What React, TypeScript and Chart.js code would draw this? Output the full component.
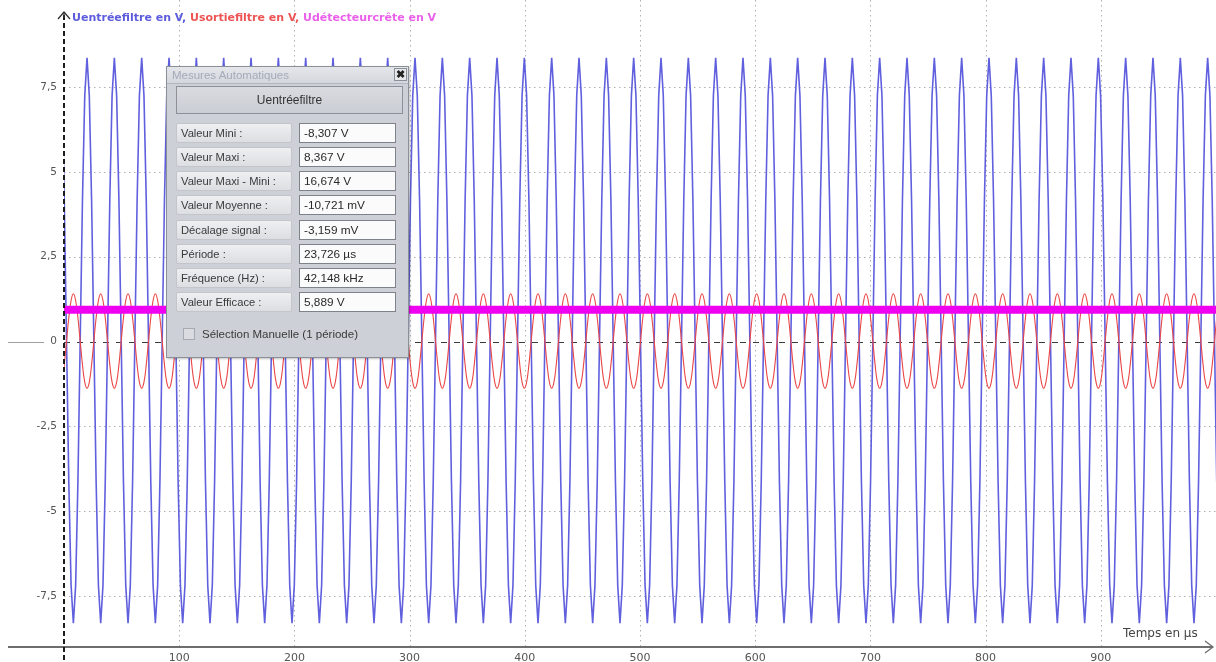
import React, { useEffect, useRef } from "react";
import { Chart, registerables } from "chart.js";

Chart.register(...registerables);

// Acquisition: one period of each signal, repeated over the record
const periodeUs = 23.726;
const premierCreuxUs = -15.6;
const nombrePeriodes = 43;
const uEntreeCycle = [-8.307, -7.19, -4.15, 0.03, 4.18, 7.25, 8.367, 7.25, 4.18, 0.03, -4.15, -7.19];
const uSortieCycle = [1.41, 1.21, 0.7, 0.01, -0.69, -1.2, -1.38, -1.2, -0.69, 0.01, 0.7, 1.21];
const detecteurTemps = [0, 1000];
const detecteurValeurs = [0.94, 0.94];

// Axes
const xMin = 0;
const xMax = 1000;
const yMin = -9.45;
const yMax = 10.07;
const xAxeValeur = -9.0;
const xTicks = [100, 200, 300, 400, 500, 600, 700, 800, 900];
const yTicks = [7.5, 5, 2.5, 0, -2.5, -5, -7.5];
const yTickLabels = ["7,5", "5", "2,5", "0", "-2,5", "-5", "-7,5"];
const xTitre = "Temps en µs";

const seriesNoms = ["Uentréefiltre en V", "Usortiefiltre en V", "Udétecteurcrête en V"];
const seriesCouleurs = ["rgb(96, 96, 222)", "rgb(234, 70, 70)", "rgb(240, 0, 240)"];
const titreCouleurs = ["rgb(92, 92, 220)", "rgb(238, 84, 84)", "rgb(234, 96, 234)"];

// Mesures automatiques
const mesuresVoie = "Uentréefiltre";
const mesuresLibelles = [
  "Valeur Mini :",
  "Valeur Maxi :",
  "Valeur Maxi - Mini :",
  "Valeur Moyenne :",
  "Décalage signal :",
  "Période :",
  "Fréquence (Hz) :",
  "Valeur Efficace :",
];
const mesuresValeurs = [
  "-8,307 V",
  "8,367 V",
  "16,674 V",
  "-10,721 mV",
  "-3,159 mV",
  "23,726 µs",
  "42,148 kHz",
  "5,889 V",
];
const mesuresLignesY = [122, 146, 170, 194, 219, 243, 267, 291];

function echantillons(cycle: number[]) {
  const pts: { x: number; y: number }[] = [];
  const n = cycle.length;
  for (let c = 0; c < nombrePeriodes; c++) {
    for (let k = 0; k < n; k++) {
      pts.push({ x: premierCreuxUs + (c + k / n) * periodeUs, y: cycle[k] });
    }
  }
  pts.push({ x: premierCreuxUs + nombrePeriodes * periodeUs, y: cycle[0] });
  return pts;
}

const decor = {
  id: "decor",
  beforeDatasetsDraw(chart: any) {
    const { ctx, scales } = chart;
    const x = scales.x;
    const y = scales.y;
    const x0 = x.getPixelForValue(0);
    const right = chart.width;
    const axeY = y.getPixelForValue(xAxeValeur);
    ctx.save();
    ctx.lineWidth = 1;
    ctx.strokeStyle = "#b0b0b0";
    ctx.setLineDash([1.5, 3.5]);
    yTicks.forEach((v) => {
      if (v === 0) return;
      const py = Math.round(y.getPixelForValue(v)) + 0.5;
      ctx.beginPath();
      ctx.moveTo(x0, py);
      ctx.lineTo(right, py);
      ctx.stroke();
    });
    xTicks.forEach((v) => {
      const px = Math.round(x.getPixelForValue(v)) + 0.5;
      ctx.beginPath();
      ctx.moveTo(px, 0);
      ctx.lineTo(px, axeY);
      ctx.stroke();
    });
    // zero reference
    const pz = Math.round(y.getPixelForValue(0)) + 0.5;
    ctx.strokeStyle = "#3a3a3a";
    ctx.lineWidth = 1.2;
    ctx.setLineDash([6, 7]);
    ctx.beginPath();
    ctx.moveTo(x0, pz);
    ctx.lineTo(right, pz);
    ctx.stroke();
    ctx.restore();
  },
  afterDatasetsDraw(chart: any) {
    const { ctx, scales } = chart;
    const x = scales.x;
    const y = scales.y;
    const x0 = Math.round(x.getPixelForValue(0));
    const axeY = Math.round(y.getPixelForValue(xAxeValeur));
    const pz = Math.round(y.getPixelForValue(0)) + 0.5;
    ctx.save();

    // stub left of the zero label
    ctx.strokeStyle = "#a0a0a0";
    ctx.lineWidth = 1;
    ctx.beginPath();
    ctx.moveTo(8, pz);
    ctx.lineTo(44, pz);
    ctx.stroke();

    // horizontal axis with arrow
    ctx.strokeStyle = "#6e6e6e";
    ctx.lineWidth = 2;
    ctx.beginPath();
    ctx.moveTo(8, axeY);
    ctx.lineTo(chart.width - 3, axeY);
    ctx.stroke();
    ctx.lineWidth = 1.3;
    ctx.beginPath();
    ctx.moveTo(chart.width - 11, axeY - 6);
    ctx.lineTo(chart.width - 3, axeY);
    ctx.lineTo(chart.width - 11, axeY + 6);
    ctx.stroke();

    // vertical axis, dashed, with arrow
    ctx.strokeStyle = "#1c1c1c";
    ctx.lineWidth = 2;
    ctx.setLineDash([5, 3]);
    ctx.beginPath();
    ctx.moveTo(x0, 15);
    ctx.lineTo(x0, chart.height);
    ctx.stroke();
    ctx.setLineDash([]);
    ctx.lineWidth = 1.3;
    ctx.strokeStyle = "#333";
    ctx.beginPath();
    ctx.moveTo(x0 - 6, 19);
    ctx.lineTo(x0, 12);
    ctx.lineTo(x0 + 6, 19);
    ctx.stroke();
    ctx.beginPath();
    ctx.moveTo(x0, 12);
    ctx.lineTo(x0, 18);
    ctx.stroke();

    // tick labels
    ctx.fillStyle = "#555";
    ctx.font = "10.5px 'DejaVu Sans'";
    ctx.textAlign = "right";
    ctx.textBaseline = "middle";
    yTicks.forEach((v, i) => {
      ctx.fillText(yTickLabels[i], 57, y.getPixelForValue(v));
    });
    ctx.textAlign = "center";
    ctx.font = "11px 'DejaVu Sans'";
    xTicks.forEach((v) => {
      ctx.fillText(String(v), x.getPixelForValue(v), axeY + 11);
    });
    ctx.textAlign = "left";
    ctx.fillStyle = "#444";
    ctx.font = "12px 'DejaVu Sans'";
    ctx.fillText(xTitre, 1123, axeY - 13);

    // series names along the top
    ctx.font = "bold 11px 'DejaVu Sans'";
    let tx = 72;
    seriesNoms.forEach((nom, i) => {
      const t = i < seriesNoms.length - 1 ? nom + ", " : nom;
      ctx.fillStyle = titreCouleurs[i];
      ctx.fillText(t, tx, 18);
      tx += ctx.measureText(t).width;
    });
    ctx.restore();
  },
};

function Mesures() {
  const police = "'Liberation Sans', Arial, sans-serif";
  return (
    <div
      style={{
        position: "absolute",
        left: 166,
        top: 66,
        width: 243,
        height: 292,
        boxSizing: "border-box",
        background: "#cdd0d6",
        border: "1px solid #8a8f98",
        boxShadow: "1px 1px 2px rgba(0,0,0,0.25)",
        fontFamily: police,
      }}
    >
      <div
        style={{
          position: "absolute",
          left: 0,
          top: 0,
          right: 0,
          height: 16,
          background: "linear-gradient(#e4e6ea, #d4d7dd)",
          borderBottom: "1px solid #b2b6be",
          color: "#a3aab8",
          fontSize: 11.5,
          lineHeight: "16px",
          paddingLeft: 5,
          whiteSpace: "nowrap",
        }}
      >
        Mesures Automatiques
      </div>
      <div
        style={{
          position: "absolute",
          right: 1,
          top: 1,
          width: 13,
          height: 13,
          background: "#e8e9ec",
          border: "1px solid #8a8f98",
          boxSizing: "border-box",
          color: "#222",
          fontSize: 11,
          fontWeight: "bold",
          lineHeight: "11px",
          textAlign: "center",
        }}
      >
        ✖
      </div>
      <div
        style={{
          position: "absolute",
          left: 9,
          top: 19,
          width: 227,
          height: 28,
          boxSizing: "border-box",
          background: "linear-gradient(#d9dbe0, #cacdd3)",
          border: "1px solid #8c9199",
          color: "#333",
          fontSize: 12,
          lineHeight: "26px",
          textAlign: "center",
        }}
      >
        {mesuresVoie}
      </div>
      {mesuresLibelles.map((lib, i) => (
        <React.Fragment key={lib}>
          <div
            style={{
              position: "absolute",
              left: 9,
              top: mesuresLignesY[i] - 66,
              width: 116,
              height: 20,
              boxSizing: "border-box",
              background: "linear-gradient(#eeeff1, #dcdee2)",
              border: "1px solid #c2c5cb",
              borderRadius: 2,
              color: "#3a3a3a",
              fontSize: 11.2,
              lineHeight: "18px",
              paddingLeft: 4,
              whiteSpace: "nowrap",
            }}
          >
            {lib}
          </div>
          <div
            style={{
              position: "absolute",
              left: 132,
              top: mesuresLignesY[i] - 66,
              width: 97,
              height: 20,
              boxSizing: "border-box",
              background: "#fbfbfc",
              border: "1px solid #7d828b",
              color: "#2a2a2a",
              fontSize: 11.8,
              lineHeight: "18px",
              paddingLeft: 4,
              whiteSpace: "nowrap",
            }}
          >
            {mesuresValeurs[i]}
          </div>
        </React.Fragment>
      ))}
      <div
        style={{
          position: "absolute",
          left: 16,
          top: 261,
          width: 12,
          height: 12,
          boxSizing: "border-box",
          background: "#d9dbe0",
          border: "1px solid #a5a9b1",
        }}
      />
      <div
        style={{
          position: "absolute",
          left: 35,
          top: 259,
          color: "#3a3a3a",
          fontSize: 11.5,
          lineHeight: "16px",
          whiteSpace: "nowrap",
        }}
      >
        Sélection Manuelle (1 période)
      </div>
    </div>
  );
}

export default function App() {
  const canvasRef = useRef<HTMLCanvasElement | null>(null);

  useEffect(() => {
    const canvas = canvasRef.current;
    if (!canvas) return;
    const chart = new Chart(canvas, {
      type: "line",
      data: {
        datasets: [
          {
            label: seriesNoms[0],
            data: echantillons(uEntreeCycle),
            borderColor: seriesCouleurs[0],
            borderWidth: 1.6,
            pointRadius: 0,
            tension: 0,
            clip: 0,
            order: 3,
          },
          {
            label: seriesNoms[1],
            data: echantillons(uSortieCycle),
            borderColor: seriesCouleurs[1],
            borderWidth: 1.1,
            pointRadius: 0,
            tension: 0.4,
            clip: 0,
            order: 2,
          },
          {
            label: seriesNoms[2],
            data: detecteurTemps.map((t, i) => ({ x: t, y: detecteurValeurs[i] })),
            borderColor: seriesCouleurs[2],
            borderWidth: 8,
            pointRadius: 0,
            clip: 0,
            order: 1,
          },
        ],
      },
      options: {
        animation: false,
        responsive: false,
        devicePixelRatio: 1,
        layout: { padding: { left: 64, right: 0, top: 0, bottom: 0 } },
        plugins: { legend: { display: false }, tooltip: { enabled: false } },
        scales: {
          x: { type: "linear", min: xMin, max: xMax, display: false },
          y: { type: "linear", min: yMin, max: yMax, display: false },
        },
      },
      plugins: [decor],
    });
    return () => chart.destroy();
  }, []);

  return (
    <div style={{ position: "fixed", left: 0, top: 0, width: 1216, height: 662, background: "#fff" }}>
      <canvas ref={canvasRef} width={1216} height={662} style={{ display: "block" }} />
      <Mesures />
    </div>
  );
}
